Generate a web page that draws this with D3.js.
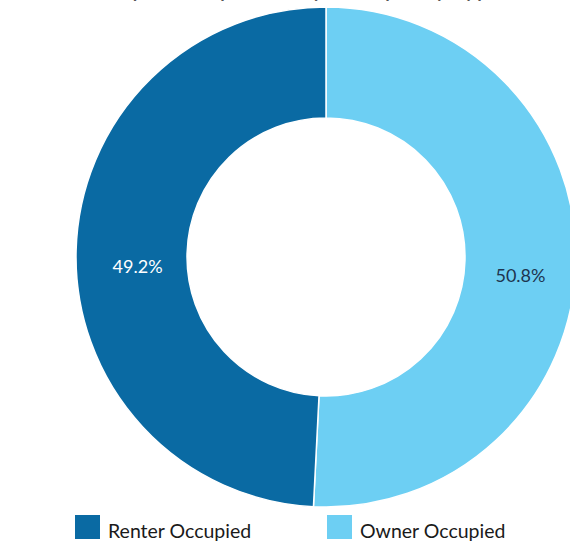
<!DOCTYPE html>
<html><head><meta charset="utf-8">
<script src="https://cdn.jsdelivr.net/npm/d3@7"></script>
<style>body{margin:0;background:#fff;}svg{display:block;}</style>
</head><body>
<svg id="chart" width="570" height="545"></svg>
<script>
const title = "Occupied Properties by Occupancy Type";
const categories = ["Owner Occupied", "Renter Occupied"];
const values = [50.8, 49.2];
const colors = ["#6dcff3", "#0a6aa3"];
const labelColors = ["#1d3550", "#ffffff"];
const legendOrder = ["Renter Occupied", "Owner Occupied"];

const svg = d3.select("#chart");
const cx = 326, cy = 257, R = 250, r = 139;

svg.append("text").attr("x", 290).attr("y", -3).attr("text-anchor", "middle")
  .attr("font-family", "Lato, sans-serif").attr("font-size", 24).attr("fill", "#555")
  .text(title);

const data = categories.map((c, i) => ({cat: c, value: values[i], color: colors[i], lc: labelColors[i]}));
const pie = d3.pie().value(d => d.value).sort(null);
const arc = d3.arc().innerRadius(r).outerRadius(R);
const labelArc = d3.arc().innerRadius((R + r) / 2 - 3).outerRadius((R + r) / 2 - 3);

const g = svg.append("g").attr("transform", `translate(${cx},${cy})`);
const arcs = pie(data);
g.selectAll("path").data(arcs).join("path")
  .attr("d", arc).attr("fill", d => d.data.color)
  .attr("stroke", "#fff").attr("stroke-width", 1.5);

g.selectAll("text.lbl").data(arcs).join("text").attr("class", "lbl")
  .attr("transform", d => { const c = labelArc.centroid(d); return `translate(${c[0] + 3},${c[1] + 14})`; })
  .attr("dy", "0.35em").attr("text-anchor", "middle")
  .attr("font-family", "Lato, sans-serif").attr("font-size", 18)
  .attr("fill", d => d.data.lc)
  .text(d => d3.format(".1f")(d.data.value) + "%");

const color = d3.scaleOrdinal().domain(categories).range(colors);
const lx = d3.scalePoint().domain(legendOrder).range([75, 327]);
const leg = svg.append("g").selectAll("g").data(legendOrder).join("g")
  .attr("transform", d => `translate(${lx(d)},515)`);
leg.append("rect").attr("width", 25).attr("height", 24).attr("fill", d => color(d));
leg.append("text").attr("x", 33).attr("y", 23)
  .attr("font-family", "Lato, sans-serif").attr("font-size", 19.5).attr("fill", "#1a1a1a")
  .text(d => d);
</script>
</body></html>
